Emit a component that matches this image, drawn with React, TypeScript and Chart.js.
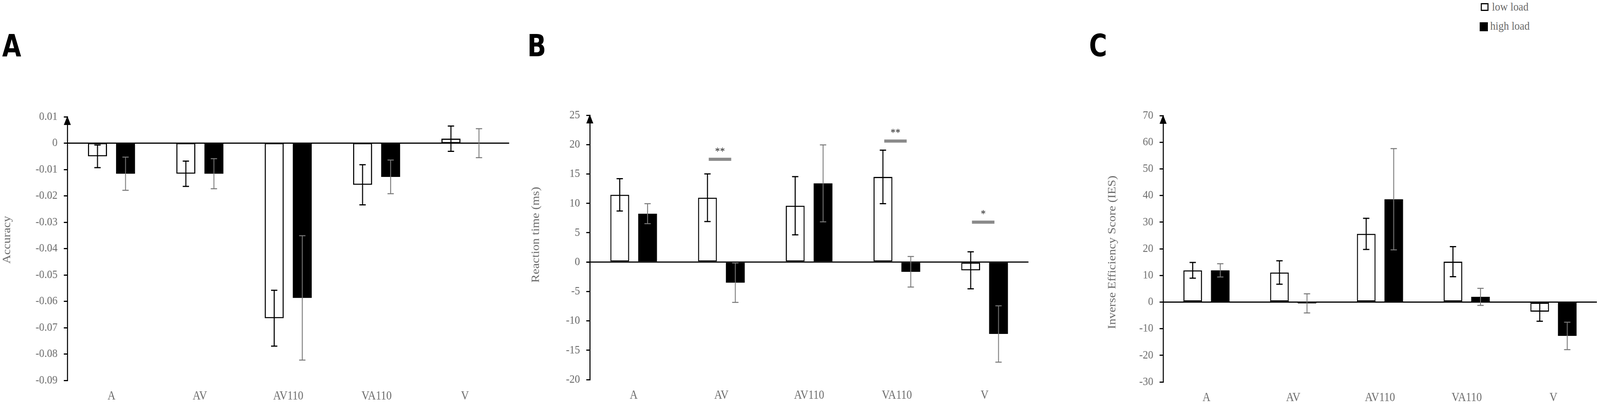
import React, { useEffect, useRef } from 'react';
import { Chart, registerables } from 'chart.js';

Chart.register(...registerables);

const categories = ['A', 'AV', 'AV110', 'VA110', 'V'];
const seriesNames = ['low load', 'high load'];

// Panel A: accuracy
const accLow = [-0.005, -0.0116, -0.0664, -0.0158, 0.0017];
const accLowErr = [0.0043, 0.0048, 0.0106, 0.0076, 0.0048];
const accHigh = [-0.0116, -0.0116, -0.0587, -0.0128, 0];
const accHighErr = [0.0063, 0.0057, 0.0236, 0.0064, 0.0055];

// Panel B: reaction time
const rtLow = [11.45, 10.96, 9.6, 14.5, -1.4];
const rtLowErr = [2.75, 4.05, 4.95, 4.55, 3.15];
const rtHigh = [8.24, -3.5, 13.4, -1.65, -12.23];
const rtHighErr = [1.7, 3.35, 6.55, 2.6, 4.8];
const rtSigCats = ['AV', 'VA110', 'V'];
const rtSigLevel = [17.5, 20.6, 6.8];
const rtSigStars = ['**', '**', '*'];
const rtStarLevel = [19.3, 22.45, 8.65];

// Panel C: inverse efficiency score
const iesLow = [11.9, 11.1, 25.6, 15.15, -3.6];
const iesLowErr = [2.95, 4.4, 5.85, 5.65, 3.6];
const iesHigh = [11.9, -0.5, 38.6, 1.95, -12.7];
const iesHighErr = [2.5, 3.6, 19, 3.2, 5.15];

const GRAY = '#6a6a6a';
const SERIF = "'Liberation Serif', 'Times New Roman', serif";
const PAGE_W = 4563;
const PAGE_H = 1037;

const decorPlugin = {
  id: 'decor',
  afterDatasetsDraw(chart: any, _args: any, opts: any) {
    const { ctx, chartArea, scales } = chart;
    const x = scales.x;
    const y = scales.y;
    ctx.save();

    // zero line
    const y0 = y.getPixelForValue(0);
    ctx.strokeStyle = '#000';
    ctx.lineWidth = 3;
    ctx.beginPath();
    ctx.moveTo(chartArea.left - 10, y0);
    ctx.lineTo(chartArea.right, y0);
    ctx.stroke();

    // error bars
    chart.data.datasets.forEach((ds: any, di: number) => {
      const meta = chart.getDatasetMeta(di);
      ctx.strokeStyle = di === 0 ? '#000' : '#777777';
      ctx.lineWidth = di === 0 ? 3 : 2.5;
      meta.data.forEach((bar: any, i: number) => {
        const v = ds.data[i];
        const e = ds.errors[i];
        const t = y.getPixelForValue(v + e);
        const b = y.getPixelForValue(v - e);
        const cx = bar.x;
        ctx.beginPath();
        ctx.moveTo(cx, t);
        ctx.lineTo(cx, b);
        ctx.moveTo(cx - 9, t);
        ctx.lineTo(cx + 9, t);
        ctx.moveTo(cx - 9, b);
        ctx.lineTo(cx + 9, b);
        ctx.stroke();
      });
    });

    // significance markers
    if (opts && opts.sigCats) {
      opts.sigCats.forEach((c: string, i: number) => {
        const cx = x.getPixelForValue(categories.indexOf(c)) - 4;
        const ly = y.getPixelForValue(opts.sigLevel[i]);
        ctx.fillStyle = '#8a8a8a';
        ctx.fillRect(cx - 32, ly - 4, 64, 8);
        ctx.fillStyle = '#222';
        ctx.font = `28px ${SERIF}`;
        ctx.textAlign = 'center';
        ctx.textBaseline = 'alphabetic';
        ctx.fillText(opts.sigStars[i], cx, y.getPixelForValue(opts.starLevel[i]) + 15);
      });
    }

    // arrow on the y axis
    const ax = chartArea.left;
    ctx.fillStyle = '#000';
    ctx.beginPath();
    ctx.moveTo(ax, chartArea.top - 2);
    ctx.lineTo(ax - 10, chartArea.top + 21);
    ctx.lineTo(ax + 10, chartArea.top + 21);
    ctx.closePath();
    ctx.fill();

    // y axis title
    if (opts && opts.title) {
      ctx.translate(opts.titleX, opts.titleY);
      ctx.rotate(-Math.PI / 2);
      ctx.fillStyle = GRAY;
      ctx.font = `32px ${SERIF}`;
      ctx.textAlign = 'center';
      ctx.textBaseline = 'middle';
      ctx.fillText(opts.title, 0, 0);
    }
    ctx.restore();
  },
};

interface PanelProps {
  left: number;
  width: number;
  padTop: number;
  padRight: number;
  bottomH: number;
  axisW: number;
  title: string;
  titleX: number;
  titleY: number;
  low: number[];
  lowErr: number[];
  high: number[];
  highErr: number[];
  min: number;
  max: number;
  step: number;
  decimals: number;
  sig?: any;
}

const Panel: React.FC<PanelProps> = (p) => {
  const ref = useRef<HTMLCanvasElement | null>(null);

  useEffect(() => {
    if (!ref.current) return;
    const chart = new Chart(ref.current, {
      type: 'bar',
      data: {
        labels: categories,
        datasets: [
          {
            label: seriesNames[0],
            data: p.low,
            errors: p.lowErr,
            backgroundColor: '#ffffff',
            borderColor: '#000000',
            borderWidth: 3,
            borderSkipped: false,
            categoryPercentage: 0.635,
            barPercentage: 0.675,
          } as any,
          {
            label: seriesNames[1],
            data: p.high,
            errors: p.highErr,
            backgroundColor: '#000000',
            borderWidth: 0,
            categoryPercentage: 0.635,
            barPercentage: 0.675,
          } as any,
        ],
      },
      options: {
        animation: false,
        responsive: true,
        maintainAspectRatio: false,
        layout: { padding: { top: p.padTop, right: p.padRight, left: 0, bottom: 0 } },
        plugins: {
          legend: { display: false },
          tooltip: { enabled: false },
          decor: {
            ...(p.sig || {}),
            title: p.title,
            titleX: p.titleX - p.left,
            titleY: p.titleY,
          },
        } as any,
        scales: {
          x: {
            grid: { display: false, drawTicks: false },
            border: { display: false },
            ticks: { color: GRAY, font: { family: SERIF, size: 31 }, padding: 22 },
            afterFit: (s: any) => {
              s.height = p.bottomH;
            },
          },
          y: {
            min: p.min,
            max: p.max,
            grid: {
              drawOnChartArea: false,
              drawTicks: true,
              tickLength: 10,
              color: '#000',
              lineWidth: 3,
            },
            border: { display: true, color: '#000', width: 3 },
            ticks: {
              stepSize: p.step,
              color: GRAY,
              font: { family: SERIF, size: 30 },
              padding: 18,
              callback: (v: any) => {
                const n = Number(v);
                if (Math.abs(n) < 1e-9) return '0';
                return n.toFixed(p.decimals);
              },
            },
            afterFit: (s: any) => {
              s.width = p.axisW;
            },
          },
        },
      },
      plugins: [decorPlugin],
    });
    return () => {
      chart.destroy();
    };
  }, []);

  return (
    <div style={{ position: 'absolute', left: p.left, top: 0, width: p.width, height: PAGE_H }}>
      <canvas ref={ref}></canvas>
    </div>
  );
};

const letterStyle: React.CSSProperties = {
  position: 'absolute',
  top: 78,
  fontFamily: "'Liberation Sans Narrow', 'DejaVu Sans Condensed', 'Liberation Sans', sans-serif",
  fontStretch: 'condensed',
  fontWeight: 'bold',
  fontSize: 78,
  lineHeight: 1,
  color: '#000',
};

const App: React.FC = () => {
  const vw = document.documentElement.clientWidth || window.innerWidth || PAGE_W;
  const vh = window.innerHeight || PAGE_H;
  const sx = vw / PAGE_W;
  const sy = vh / PAGE_H;

  return (
    <div
      style={{
        position: 'fixed',
        left: 0,
        top: 0,
        width: PAGE_W,
        height: PAGE_H,
        background: '#fff',
        overflow: 'hidden',
        transform: `scale(${sx}, ${sy})`,
        transformOrigin: '0 0',
      }}
    >
      <div style={{ ...letterStyle, left: 6 }}>A</div>
      <div style={{ ...letterStyle, left: 1504 }}>B</div>
      <div style={{ ...letterStyle, left: 3106 }}>C</div>

      {seriesNames.map((name, i) => (
        <React.Fragment key={name}>
          <div
            style={{
              position: 'absolute',
              left: i === 0 ? 4223 : 4220,
              top: i === 0 ? 8 : 57,
              width: i === 0 ? 22 : 23,
              height: i === 0 ? 20 : 23,
              boxSizing: 'border-box',
              border: '3px solid #000',
              background: i === 0 ? '#fff' : '#000',
            }}
          ></div>
          <div
            style={{
              position: 'absolute',
              left: i === 0 ? 4255 : 4250,
              top: i === 0 ? 2 : 51,
              fontFamily: SERIF,
              fontSize: 30,
              lineHeight: 1,
              color: GRAY,
              whiteSpace: 'nowrap',
            }}
          >
            {name}
          </div>
        </React.Fragment>
      ))}

      <Panel
        left={0}
        width={1470}
        padTop={299}
        padRight={18}
        bottomH={63}
        axisW={192}
        title="Accuracy"
        titleX={21}
        titleY={614}
        low={accLow}
        lowErr={accLowErr}
        high={accHigh}
        highErr={accHighErr}
        min={-0.09}
        max={0.01}
        step={0.01}
        decimals={2}
      />
      <Panel
        left={1480}
        width={1470}
        padTop={295}
        padRight={17}
        bottomH={65}
        axisW={202}
        title="Reaction time (ms)"
        titleX={1529}
        titleY={601}
        low={rtLow}
        lowErr={rtLowErr}
        high={rtHigh}
        highErr={rtHighErr}
        min={-20}
        max={25}
        step={5}
        decimals={0}
        sig={{ sigCats: rtSigCats, sigLevel: rtSigLevel, sigStars: rtSigStars, starLevel: rtStarLevel }}
      />
      <Panel
        left={3080}
        width={1483}
        padTop={296}
        padRight={9}
        bottomH={59}
        axisW={237}
        title="Inverse Efficiency Score (IES)"
        titleX={3173}
        titleY={646}
        low={iesLow}
        lowErr={iesLowErr}
        high={iesHigh}
        highErr={iesHighErr}
        min={-30}
        max={70}
        step={10}
        decimals={0}
      />
    </div>
  );
};

export default App;
